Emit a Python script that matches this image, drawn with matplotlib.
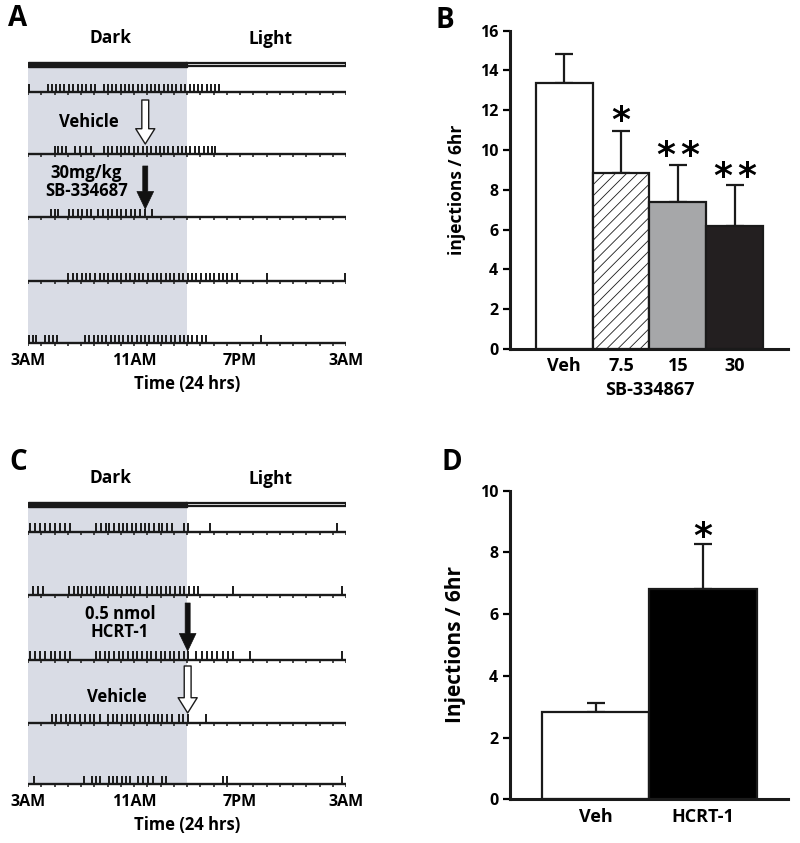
import numpy as np
import matplotlib
matplotlib.use("Agg")
import matplotlib.pyplot as plt
from matplotlib.patches import Rectangle

plt.rcParams['font.family'] = ['Open Sans', 'DejaVu Sans']
plt.rcParams['font.weight'] = 'bold'
plt.rcParams['axes.labelweight'] = 'bold'
plt.rcParams['hatch.linewidth'] = 0.6

W, H = 800, 843

# ---- raster data: injection times, hours after 3AM ----
a_rows = [
    [0.1, 1.5, 1.8, 2.1, 2.45, 2.75, 3.1, 3.4, 3.75, 4.1, 4.4, 4.75, 5.05,
     5.7, 6.0, 6.35, 6.65, 7.0, 7.3, 7.65, 7.95, 8.3, 8.6, 8.95, 9.25, 9.6, 9.9,
     10.25, 10.55, 10.9, 11.2, 11.55, 11.85, 12.2, 12.5, 12.85, 13.15, 13.5, 13.8, 14.1, 14.4],
    [2.0, 2.3, 2.6, 2.85, 3.55, 3.95, 4.35, 4.75,
     5.7, 6.0, 6.35, 6.7, 7.0, 7.35, 7.65, 8.0, 8.3, 8.65, 9.0, 9.3, 9.65, 9.95,
     10.3, 10.6, 10.95, 11.3, 11.6, 11.95, 12.25, 12.6, 12.9, 13.25, 13.55, 13.85, 14.1],
    [1.75, 2.0, 2.25, 3.1, 3.4, 3.75, 4.1, 4.45, 4.75,
     5.3, 5.65, 6.0, 6.35, 6.7, 7.05, 7.4, 7.75, 8.1, 8.45, 8.8, 9.35],
    [3.05, 3.4, 3.7, 4.05, 4.4, 4.7, 5.05, 5.4, 5.7, 6.05, 6.4, 6.7, 7.05, 7.4, 7.7,
     8.05, 8.4, 8.7, 9.05, 9.4, 9.7, 10.05, 10.4, 10.7, 11.05, 11.4, 11.7, 12.05,
     12.4, 12.7, 13.05, 13.4, 13.7, 14.05, 14.4, 14.7, 15.05, 15.4, 15.75, 18.0, 23.9],
    [0.1, 0.35, 0.6, 1.25, 1.55, 1.85, 2.2,
     4.3, 4.6, 4.95, 5.25, 5.6, 5.9, 6.25, 6.55, 6.9, 7.2, 7.55, 7.85, 8.2, 8.5,
     8.85, 9.15, 9.5, 9.8, 10.15, 10.45, 10.8, 11.1, 11.45, 11.75, 12.1, 12.4,
     12.75, 13.1, 13.4, 17.6],
]
c_rows = [
    [0.15, 0.5, 0.9, 1.25, 1.65, 2.0, 2.4, 2.8, 3.15,
     5.15, 5.5, 5.85, 6.15, 6.5, 6.85, 7.15, 7.5, 7.85, 8.15, 8.5, 8.85, 9.15,
     9.5, 9.85, 10.15, 10.5, 10.85, 11.75, 12.05, 13.75, 23.3],
    [0.35, 0.75, 1.15, 3.1, 3.45, 3.75, 4.1, 4.45, 4.75, 5.1, 5.45, 5.75, 6.1,
     6.45, 6.75, 7.1, 7.45, 7.75, 8.1, 8.45, 9.0, 9.35, 9.7, 10.05, 10.4, 10.75,
     11.1, 11.45, 11.8, 12.15, 12.5, 12.85, 15.45, 23.7],
    [0.15, 0.55, 0.9, 1.3, 1.7, 2.05, 2.45, 2.8, 3.2,
     5.1, 5.45, 5.8, 6.15, 6.5, 6.85, 7.2, 7.55, 7.9, 8.25, 8.6, 8.95, 9.3, 9.65,
     10.0, 10.35, 10.7, 11.05, 11.4, 11.75, 12.1,
     12.7, 13.1, 13.5, 13.9, 14.3, 14.7, 15.1, 15.5, 16.75, 23.7],
    [1.8, 2.15, 2.5, 2.85, 3.2, 3.55, 3.95, 4.3, 4.65, 5.0, 5.4,
     6.05, 6.4, 6.75, 7.1, 7.45, 7.8, 8.1, 8.45, 8.8, 9.15, 9.5, 9.8, 10.15,
     10.5, 10.85, 11.4, 11.7, 12.1, 13.4],
    [0.45, 4.2, 4.8, 5.1, 5.45, 6.1, 6.4, 6.75, 7.1, 7.4, 7.7, 8.3, 8.65, 9.05,
     9.45, 10.1, 10.4, 14.7, 15.0, 23.7],
]
hour_ticks = [0, 8, 16, 24]
hour_labels = ['3AM', '11AM', '7PM', '3AM']

# ---- bar data ----
b_groups = ['Veh', '7.5', '15', '30']
b_means = [13.35, 8.87, 7.4, 6.18]
b_sem = [1.5, 2.1, 1.85, 2.05]
b_stars = [0, 1, 2, 2]   # number of asterisks

d_groups = ['Veh', 'HCRT-1']
d_means = [2.82, 6.8]
d_sem = [0.31, 1.47]
d_stars = [0, 1]

INK = '#1a1a1a'


def box(x0, y0, x1, y1):
    return [x0 / W, 1 - y1 / H, (x1 - x0) / W, (y1 - y0) / H]


fig = plt.figure(figsize=(W / 100, H / 100), dpi=100)


def raster_panel(y_top, y_bot, rows, base, bar_y, label_y):
    ax = fig.add_axes(box(28, y_top, 346, y_bot))
    ax.set_xlim(0, 24)
    ax.set_ylim(y_bot, y_top)
    ax.axis('off')
    # dark phase shading
    ax.add_patch(Rectangle((0, bar_y + 5), 12, base[-1] - bar_y - 5,
                           color='#d9dce5', lw=0, zorder=0))
    # dark / light bar
    ax.add_patch(Rectangle((0, bar_y), 12, 5, fc=INK, ec=INK, lw=1))
    ax.add_patch(Rectangle((12, bar_y + 0.7), 12, 3.6, fc='white', ec=INK, lw=1.6))
    ax.text(6.2, bar_y - 24, 'Dark', ha='center', va='center', fontsize=12.5)
    ax.text(18.3, bar_y - 23, 'Light', ha='center', va='center', fontsize=12.5)
    for y0, ev in zip(base, rows):
        ax.plot([0, 24], [y0, y0], color=INK, lw=1.7, solid_capstyle='butt')
        ax.vlines(np.arange(25), y0, y0 + 2.8, color=INK, lw=1.1)
        ax.vlines(ev, y0 - 8.5, y0, color=INK, lw=1.4)
    for h, lab in zip(hour_ticks, hour_labels):
        ax.text(h, label_y + 1, lab, ha='center', va='center', fontsize=11.5)
    ax.text(12, label_y + 24, 'Time (24 hrs)', ha='center', va='center', fontsize=12)
    return ax


def arrow(ax, x, y0, y1, hollow):
    if hollow:
        style = 'simple,head_width=1.25,head_length=1.0,tail_width=0.45'
        ax.annotate('', xy=(x, y1), xytext=(x, y0),
                    arrowprops=dict(arrowstyle=style, fc='white', ec=INK,
                                    lw=1.0, shrinkA=0, shrinkB=0, mutation_scale=11))
    else:
        style = 'simple,head_width=1.0,head_length=1.05,tail_width=0.3'
        ax.annotate('', xy=(x, y1), xytext=(x, y0),
                    arrowprops=dict(arrowstyle=style, fc='#111111', ec='#111111',
                                    lw=0.5, shrinkA=0, shrinkB=0, mutation_scale=12))


# Panel A
axA = raster_panel(0, 421, a_rows, [92, 154, 217, 281, 343], 62, 360)
arrow(axA, 8.85, 100, 144, True)
arrow(axA, 8.85, 166, 209, False)
axA.text(4.6, 122, 'Vehicle', ha='center', va='center', fontsize=12)
axA.text(4.4, 182, '30mg/kg\nSB-334687', ha='center', va='center', fontsize=12,
         linespacing=1.0)

# Panel C
axC = raster_panel(421, 843, c_rows, [532, 595, 660, 723, 784], 502, 801)
arrow(axC, 12.05, 603, 651, False)
arrow(axC, 12.05, 666, 713, True)
axC.text(6.95, 623, '0.5 nmol\nHCRT-1', ha='center', va='center', fontsize=12,
         linespacing=1.0)
axC.text(6.7, 697, 'Vehicle', ha='center', va='center', fontsize=12)


def bar_panel(rect, groups, means, sem, stars, star_off, ymax, ylabel, colors,
              hatches, xlim, lab_fs, ylab_fs):
    ax = fig.add_axes(rect)
    x = np.arange(len(groups))
    ax.bar(x, means, width=1.0, color=colors, edgecolor=INK, lw=1.6,
           hatch=hatches, zorder=2)
    ax.errorbar(x, means, yerr=[np.zeros(len(sem)), sem], fmt='none',
                ecolor=INK, elinewidth=1.6, capsize=6.5, capthick=1.6, zorder=1)
    for xi, m, s, n, off in zip(x, means, sem, stars, star_off):
        if n == 0:
            continue
        dxs = [0] if n == 1 else [-8.5, 8.5]
        for dx in dxs:
            ax.annotate('*', xy=(xi, m + s), xytext=(dx, off), textcoords='offset points',
                        ha='center', va='baseline', fontsize=26,
                        fontweight='bold', family='DejaVu Sans')
    ax.set_xlim(*xlim)
    ax.set_ylim(0, ymax)
    for s in ['top', 'right']:
        ax.spines[s].set_visible(False)
    for s in ['left', 'bottom']:
        ax.spines[s].set_linewidth(2.2)
        ax.spines[s].set_color(INK)
    ax.set_xticks(x)
    ax.set_xticklabels(groups, fontsize=lab_fs, fontweight='bold')
    ax.tick_params(axis='x', length=0, pad=6)
    ax.tick_params(axis='y', length=5, width=1.6, labelsize=11.5, direction='out')
    ax.set_ylabel(ylabel, fontsize=ylab_fs, labelpad=10)
    return ax


axB = bar_panel(box(510, 30.7, 788, 349), b_groups, b_means, b_sem, b_stars,
                [0, 0, -1, -1], 16,
                'injections / 6hr', ['white', 'white', '#a6a7a9', '#231f20'],
                ['', '///', '', ''], (-0.956, 3.939), 13, 12.5)
axB.set_yticks(np.arange(0, 17, 2))
for t in axB.get_yticklabels():
    t.set_fontweight('bold')
axB.text(1.5, -2.05, 'SB-334867', ha='center', va='center', fontsize=13)

axD = bar_panel(box(510, 490.7, 788, 799.3), d_groups, d_means, d_sem, d_stars,
                [0, -2], 10, 'Injections / 6hr', ['white', 'black'], ['', ''],
                (-0.796, 1.79), 13, 15)
axD.set_yticks(np.arange(0, 11, 2))
for t in axD.get_yticklabels():
    t.set_fontweight('bold')

for lab, (x, y) in zip('ABCD', [(18, 18), (445, 20), (18, 462), (452, 463)]):
    fig.text(x / W, 1 - y / H, lab, ha='center', va='center', fontsize=20)

fig.savefig('out.png', dpi=100)
